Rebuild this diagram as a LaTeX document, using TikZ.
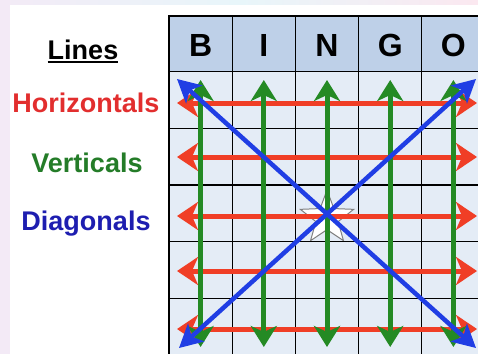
\documentclass[tikz,border=0pt]{standalone}
\usepackage{fontspec}
\setmainfont{Liberation Sans}
\usetikzlibrary{arrows.meta,shapes.geometric}
\definecolor{bgleft}{RGB}{243,234,246}
\definecolor{bgmid}{RGB}{232,246,250}
\definecolor{bgright}{RGB}{251,232,240}
\definecolor{cellfill}{RGB}{228,236,246}
\definecolor{headfill}{RGB}{190,208,232}
\definecolor{hred}{RGB}{240,62,38}
\definecolor{hgreen}{RGB}{36,138,36}
\definecolor{hblue}{RGB}{32,62,228}
\definecolor{lred}{RGB}{226,46,46}
\definecolor{lgreen}{RGB}{36,124,40}
\definecolor{lblue}{RGB}{30,30,176}
\begin{document}
\begin{tikzpicture}[x=1pt,y=-1pt,
  gridline/.style={draw=black,line width=1.3pt},
  hdr/.style={font=\fontsize{32}{34}\selectfont\bfseries,anchor=base,inner sep=0},
  lbl/.style={font=\fontsize{27}{30}\selectfont\bfseries,anchor=base,inner sep=0},
  redarrow/.style={draw=hred,line width=5pt,{Stealth[length=21pt,width=28pt,inset=6pt]}-{Stealth[length=21pt,width=28pt,inset=6pt]}},
  greenarrow/.style={draw=hgreen,line width=5pt,{Stealth[length=21pt,width=26pt,inset=6pt]}-{Stealth[length=21pt,width=26pt,inset=6pt]}},
  bluearrow/.style={draw=hblue,line width=4.5pt,{Stealth[length=23pt,width=24pt,inset=6pt]}-{Stealth[length=23pt,width=24pt,inset=6pt]}}]
\useasboundingbox (0,0) rectangle (478,353);
\clip (0,0) rectangle (478,353);
\shade[left color=bgleft,right color=bgright,middle color=bgmid] (0,0) rectangle (478,353);
\fill[white] (10,5) rectangle (500,370);
% grid fills
\fill[cellfill] (169,71.7) rectangle (500,370);
\fill[headfill] (169,16) rectangle (500,71.7);
% star
\node[star,star points=5,star point ratio=2.4,minimum size=56pt,inner sep=0,draw=gray,line width=1pt,fill=white] (star) at (327,218) {};
% grid lines
\foreach \i in {0,...,5} \draw[gridline] (169+63.2*\i,16) -- (169+63.2*\i,370);
\foreach \y in {71.7,128.3,185,241.7,298.3} \draw[gridline] (169,\y) -- (500,\y);
\draw[draw=black,line width=2.4pt] (169,370) -- (169,16) -- (500,16);
% header letters
\foreach \l [count=\i from 0] in {B,I,N,G,O}
  \node[hdr] (h\i) at (200.6+63.2*\i,56.7) {\l};
% left labels
\node[lbl] (lines) at (83,59.3) {Lines};
\draw[line width=1.8pt] ([yshift=-3pt]lines.base west) -- ([yshift=-3pt]lines.base east);
\node[lbl,text=lred] (hor) at (86,112) {Horizontals};
\node[lbl,text=lgreen] (ver) at (87,172) {Verticals};
\node[lbl,text=lblue] (dia) at (86,230) {Diagonals};
% red horizontals
\foreach \y [count=\i] in {103,157,216,271,329} {
  \coordinate (rl\i) at (177,\y);
  \coordinate (rr\i) at (477,\y);
  \draw[redarrow] (rl\i) -- (rr\i);
}
% green verticals
\foreach \i in {0,...,4} {
  \coordinate (gt\i) at (200.6+63.2*\i,80);
  \coordinate (gb\i) at (200.6+63.2*\i,347);
  \draw[greenarrow] (gt\i) -- (gb\i);
}
% blue diagonals
\coordinate (d1a) at (177,79);
\coordinate (d1b) at (476,348);
\coordinate (d2a) at (179,348);
\coordinate (d2b) at (476,79);
\draw[bluearrow] (d1a) -- (d1b);
\draw[bluearrow] (d2a) -- (d2b);
\end{tikzpicture}
\end{document}
